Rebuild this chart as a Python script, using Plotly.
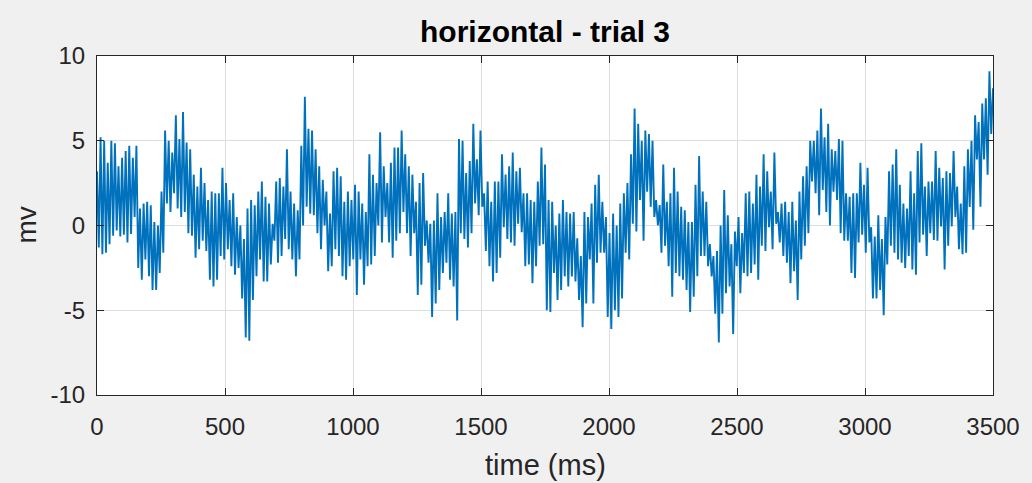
import plotly.graph_objects as go

# Sampling: peaks at t = 0, 14, 28, ... ms ; troughs at t = 7, 21, 35, ... ms
step_ms = 7

peaks_mv = [
    3.2, 5.2, 5.0, 3.7, 5.0, 4.85, 3.5, 4.0, 4.4, 4.7,
    4.0, 4.7, 1.0, 1.3, 1.4, 1.2, 0.2, 0.0, 2.0, 5.6,
    5.0, 4.3, 6.5, 5.1, 6.7, 4.9, 4.5, 3.0, 2.3, 3.4,
    2.5, 1.5, 2.0, 1.9, 1.9, 3.4, 2.5, 1.5, 1.9, 0.5,
    0.0, -0.8, 1.0, 1.5, 1.2, 2.0, 2.6, 1.7, 1.3, 0.1,
    2.6, 2.8, 2.3, 4.5, 2.0, 1.3, 0.9, 4.7, 7.6, 5.7,
    5.6, 4.5, 3.5, 2.7, 2.0, 0.7, 3.2, 3.4, 2.9, 1.4,
    2.0, 1.5, 2.4, 2.0, 1.3, 0.8, 4.2, 3.0, 2.5, 5.5,
    3.5, 2.5, 3.7, 4.6, 4.6, 5.6, 4.2, 3.5, 3.0, 1.4,
    2.5, 3.1, 0.3, 0.1, 0.3, 1.9, 0.5, 0.8, 1.9, 0.7,
    0.8, 5.1, 5.0, 3.1, 3.8, 6.0, 3.9, 5.6, 1.9, 2.6,
    1.4, 2.6, 2.6, 4.2, 3.0, 3.5, 4.3, 3.2, 3.4, 1.9,
    1.9, 1.5, 1.4, 2.6, 4.6, 3.6, 1.5, 1.4, 0.0, 0.7,
    1.5, 0.8, 0.7, 0.8, -0.75, -1.8, 0.8, 0.5, 1.3, 2.4,
    3.0, 1.4, 0.5, -0.45, 0.7, 0.0, 1.3, 1.9, 2.5, 4.2,
    6.9, 6.0, 5.0, 5.6, 5.4, 5.0, 1.5, 1.2, 3.6, 1.4,
    1.9, 3.4, 2.0, 1.1, 0.9, 0.2, 0.2, 2.4, 4.1, 2.0,
    1.4, -1.1, -1.8, -1.5, 0.0, 2.1, 0.6, -1.1, -0.35, 0.5,
    -0.45, 1.9, 2.0, 1.3, 3.0, 2.3, 4.2, 3.2, 2.0, 4.3,
    0.8, 1.3, 1.4, 0.8, 1.4, 0.3, 2.0, 2.9, 3.5, 5.0,
    5.0, 5.6, 6.9, 5.2, 6.0, 4.5, 4.4, 5.1, 5.0, 1.9,
    1.7, 1.9, 1.9, 3.7, 2.4, 3.4, -0.1, -0.65, 0.6, -0.8,
    0.5, 3.2, 3.6, 4.5, 2.4, 1.3, 1.0, 3.2, 1.9, 4.4,
    4.85, 2.3, 2.6, 2.6, 4.4, 3.4, 2.8, 3.2, 3.1, 4.4,
    2.3, 1.3, 3.5, 4.5, 5.0, 6.5, 6.1, 7.2, 7.5, 9.1,
    8.1,
]

troughs_mv = [
    -1.3, -1.7, -1.6, -1.1, -0.6, -0.3, -0.65, -0.55, -1.0, -0.5,
    0.5, -2.5, -3.2, -2.0, -3.0, -3.8, -3.8, -2.8, -1.6, 1.3,
    0.8, 1.9, 1.0, 0.5, 0.8, -0.45, -0.6, -1.9, -1.4, -0.9,
    -1.5, -3.2, -3.6, -3.2, -1.8, -2.0, -1.4, -2.4, -2.9, -2.5,
    -4.3, -6.6, -6.8, -4.4, -3.0, -2.0, -3.3, -3.3, -2.3, -0.9,
    -2.2, -1.8, -0.8, -1.4, -2.0, -3.0, -2.0, 0.0, 1.1, 0.7,
    0.6, -0.45, -1.4, 0.0, -2.7, -2.4, -1.4, -1.8, -3.0, -3.2,
    -2.4, -2.0, -4.1, -2.0, -3.5, -2.4, -2.3, -1.8, 0.0, -1.0,
    0.5, -1.0, -1.9, -0.9, -0.45, 0.8, -0.45, -1.8, -0.45, -4.1,
    -3.5, -1.2, -2.2, -5.4, -4.6, -3.8, -2.8, -2.2, -3.2, -3.6,
    -5.6, -0.45, -0.8, -1.3, -0.45, 1.3, 0.6, 1.1, -1.5, -2.4,
    -3.3, -2.8, -1.9, -0.1, -0.8, -1.0, -1.2, 0.1, -0.4, -2.4,
    -2.3, -3.4, -2.4, -1.2, -1.1, -5.0, -5.1, -2.8, -4.4, -3.8,
    -3.0, -3.6, -3.0, -3.3, -4.4, -6.0, -4.6, -2.0, -4.6, -2.2,
    -1.6, -1.6, -5.4, -6.1, -5.0, -5.4, -4.3, -1.6, -2.0, 0.1,
    -0.35, 1.5, -0.9, 2.0, 1.1, 0.5, 0.0, -1.6, -1.2, -2.4,
    -4.2, -2.8, -3.0, -3.2, -3.8, -5.1, -4.2, -3.0, -1.8, -1.8,
    -2.4, -3.0, -5.2, -6.9, -5.2, -4.0, -3.6, -6.4, -2.4, -4.0,
    -2.8, -3.0, -2.8, -2.3, -3.2, -1.2, -1.5, -0.1, -1.4, 0.1,
    -1.0, -1.8, -2.2, -3.4, -2.7, -4.4, -2.0, -1.2, -0.45, 2.6,
    1.9, 0.6, 2.1, 0.8, 0.0, 2.0, 1.5, -0.45, -0.9, -0.9,
    -2.8, -3.1, -1.0, -0.55, -1.6, -1.0, -4.3, -4.3, -3.8, -5.3,
    -2.3, -1.2, -1.6, -2.0, -2.2, -2.5, -1.8, -2.6, -2.9, -1.0,
    -0.55, -1.8, -0.45, -0.85, -0.9, -0.05, -2.6, -1.2, -0.05, 0.5,
    -1.4, -1.7, -1.6, 1.1, -0.25, 3.9, 1.1, 3.9, 3.0, 5.4,
]

x_ticks = [0, 500, 1000, 1500, 2000, 2500, 3000, 3500]
y_ticks = [-10, -5, 0, 5, 10]
title_text = "horizontal - trial 3"
x_label = "time (ms)"
y_label = "mv"

# interleave peaks and troughs into one time series
t_ms, mv = [], []
for i, p in enumerate(peaks_mv):
    t_ms.append(2 * i * step_ms)
    mv.append(p)
    if i < len(troughs_mv):
        t_ms.append((2 * i + 1) * step_ms)
        mv.append(troughs_mv[i])

FONT = "Liberation Sans, Arial, Helvetica, sans-serif"
AX = "#262626"

fig = go.Figure(go.Scatter(x=t_ms, y=mv, mode="lines",
                           line=dict(color="#0072BD", width=1.9),
                           hoverinfo="skip"))

axis_common = dict(showline=True, linecolor=AX, linewidth=1.2, mirror="ticks",
                   ticks="inside", ticklen=7, tickcolor=AX, tickwidth=1,
                   showgrid=True, gridcolor="#dedede", gridwidth=1,
                   zeroline=False,
                   tickfont=dict(family=FONT, size=24, color=AX))

fig.update_xaxes(range=[0, 3500], tickvals=x_ticks,
                 ticktext=[str(v) for v in x_ticks],
                 ticklabelstandoff=10, **axis_common)
fig.update_yaxes(range=[-10, 10], tickvals=y_ticks,
                 ticktext=[str(v) for v in y_ticks],
                 ticklabelstandoff=6, **axis_common)

fig.update_layout(
    width=1032, height=483,
    margin=dict(l=97, r=35, t=56, b=88),
    paper_bgcolor="#f0f0f0", plot_bgcolor="white",
    showlegend=False,
    annotations=[
        dict(text=title_text, x=0.5, y=1, xref="paper", yref="paper",
             xanchor="center", yanchor="middle", yshift=25, showarrow=False,
             font=dict(family=FONT, size=30, color="#000000", weight="bold")),
        dict(text=x_label, x=0.5, y=0, xref="paper", yref="paper",
             xanchor="center", yanchor="middle", yshift=-70, showarrow=False,
             font=dict(family=FONT, size=29, color=AX)),
        dict(text=y_label, x=0, y=0.5, xref="paper", yref="paper",
             xanchor="center", yanchor="middle", xshift=-71, showarrow=False,
             textangle=-90, font=dict(family=FONT, size=28, color=AX)),
    ],
)

fig.write_html("out.html")
